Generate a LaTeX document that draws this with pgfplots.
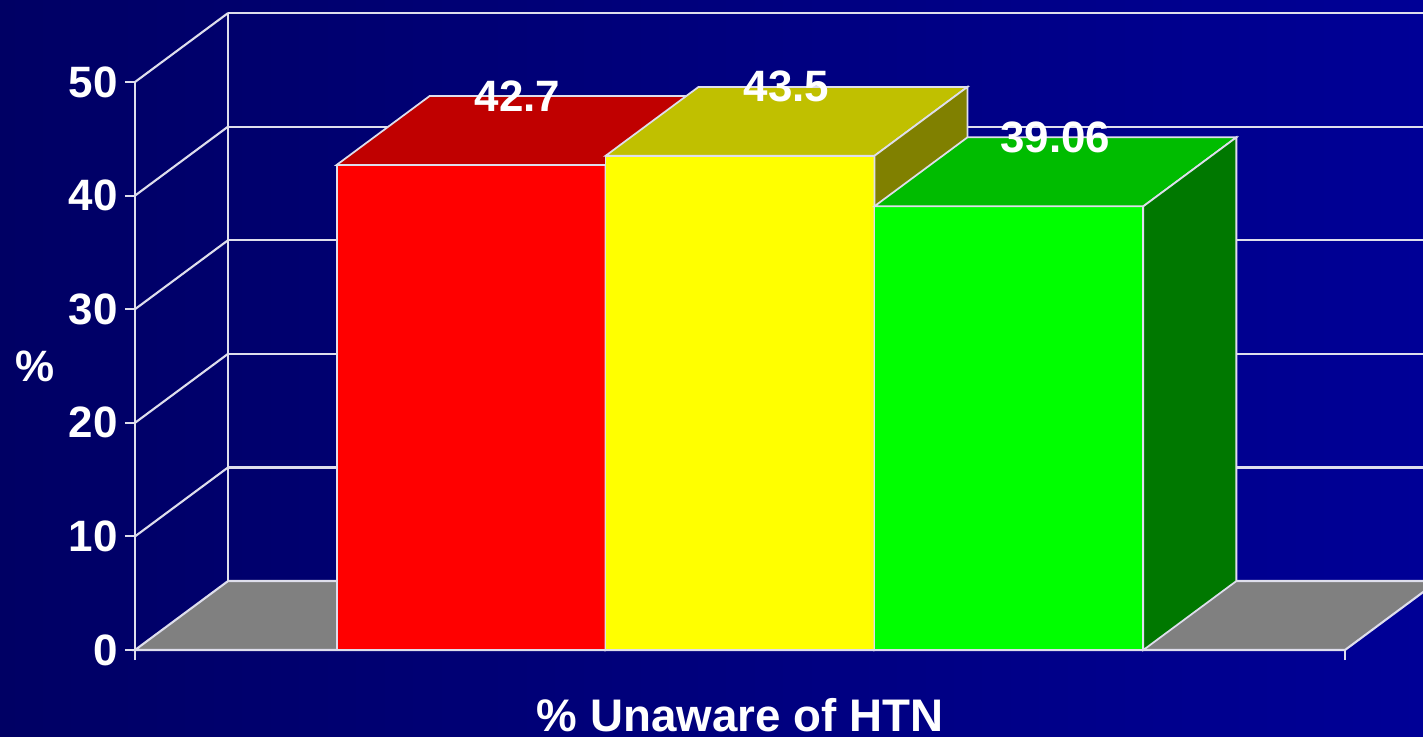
\documentclass[border=0pt]{standalone}
\usepackage{fontspec}
\setmainfont{Liberation Sans}
\usepackage{pgfplots}
\pgfplotsset{compat=1.18}
\definecolor{bgl}{RGB}{0,0,100}
\definecolor{bgr}{RGB}{0,0,150}
\definecolor{edge}{RGB}{222,222,236}
\definecolor{floorgray}{RGB}{128,128,128}
\definecolor{redF}{RGB}{255,0,0}
\definecolor{redT}{RGB}{192,0,0}
\definecolor{redS}{RGB}{128,0,0}
\definecolor{yelF}{RGB}{255,255,0}
\definecolor{yelT}{RGB}{192,192,0}
\definecolor{yelS}{RGB}{128,128,0}
\definecolor{grnF}{RGB}{0,255,0}
\definecolor{grnT}{RGB}{0,188,0}
\definecolor{grnS}{RGB}{0,120,0}
\begin{document}
\begin{tikzpicture}
\useasboundingbox (0,0) rectangle (14.23,7.36);
\clip (0,0) rectangle (14.23,7.36);
\fill[left color=bgl, right color=bgr] (0,0) rectangle (14.23,7.36);
\begin{axis}[
  at={(1.35cm,0.86cm)}, anchor=south west,
  scale only axis, width=12.10cm, height=5.68cm,
  xmin=-0.25, xmax=4.25, ymin=0, ymax=50,
  clip=false,
  axis x line*=bottom, axis y line*=left,
  axis line style={draw=edge, line width=0.6pt},
  ytick={0,10,20,30,40,50},
  xtick={-0.25,4.25}, xticklabels={},
  tick align=outside, major tick length=0.1cm,
  tick style={draw=edge, line width=0.6pt},
  /pgf/number format/assume math mode=true,
  yticklabel style={font=\bfseries\fontsize{12.5}{14}\selectfont, text=white, xshift=0.05cm},
  xlabel={\% Unaware of HTN}, ylabel={\%},
  every axis x label/.style={at={(axis description cs:0.5,0)}, anchor=base, yshift=-0.815cm, inner sep=0pt, font=\bfseries\fontsize{13}{15}\selectfont, text=white},
  every axis y label/.style={at={(axis description cs:0,0.5)}, anchor=center, xshift=-1.0cm, font=\bfseries\fontsize{12.5}{14}\selectfont, text=white},
]
% floor
\addplot[fill=floorgray, draw=edge, line width=0.6pt] coordinates {(-0.25,0) (4.25,0) (4.596,6.07) (0.096,6.07)} -- cycle;
% back wall gridlines
\addplot[draw=edge, line width=0.6pt] coordinates {(0.096,6.07) (0.096,56.07)};
\addplot[draw=edge, line width=0.6pt] coordinates {(0.096,16.07) (4.7,16.07)};
\addplot[draw=edge, line width=0.6pt] coordinates {(0.096,26.07) (4.7,26.07)};
\addplot[draw=edge, line width=0.6pt] coordinates {(0.096,36.07) (4.7,36.07)};
\addplot[draw=edge, line width=0.6pt] coordinates {(0.096,46.07) (4.7,46.07)};
\addplot[draw=edge, line width=0.6pt] coordinates {(0.096,56.07) (4.7,56.07)};
% side wall diagonals
\addplot[draw=edge, line width=0.6pt] coordinates {(-0.25,10) (0.096,16.07)};
\addplot[draw=edge, line width=0.6pt] coordinates {(-0.25,20) (0.096,26.07)};
\addplot[draw=edge, line width=0.6pt] coordinates {(-0.25,30) (0.096,36.07)};
\addplot[draw=edge, line width=0.6pt] coordinates {(-0.25,40) (0.096,46.07)};
\addplot[draw=edge, line width=0.6pt] coordinates {(-0.25,50) (0.096,56.07)};
% red bar 42.7
\addplot[fill=redF, draw=edge, line width=0.5pt] coordinates {(0.5,0) (1.5,0) (1.5,42.7) (0.5,42.7)} -- cycle;
\addplot[fill=redT, draw=edge, line width=0.5pt] coordinates {(0.5,42.7) (1.5,42.7) (1.846,48.77) (0.846,48.77)} -- cycle;
\addplot[fill=redS, draw=edge, line width=0.5pt] coordinates {(1.5,0) (1.5,42.7) (1.846,48.77) (1.846,6.07)} -- cycle;
% yellow bar 43.5
\addplot[fill=yelF, draw=edge, line width=0.5pt] coordinates {(1.5,0) (2.5,0) (2.5,43.5) (1.5,43.5)} -- cycle;
\addplot[fill=yelT, draw=edge, line width=0.5pt] coordinates {(1.5,43.5) (2.5,43.5) (2.846,49.57) (1.846,49.57)} -- cycle;
\addplot[fill=yelS, draw=edge, line width=0.5pt] coordinates {(2.5,0) (2.5,43.5) (2.846,49.57) (2.846,6.07)} -- cycle;
% green bar 39.06
\addplot[fill=grnF, draw=edge, line width=0.5pt] coordinates {(2.5,0) (3.5,0) (3.5,39.06) (2.5,39.06)} -- cycle;
\addplot[fill=grnT, draw=edge, line width=0.5pt] coordinates {(2.5,39.06) (3.5,39.06) (3.846,45.13) (2.846,45.13)} -- cycle;
\addplot[fill=grnS, draw=edge, line width=0.5pt] coordinates {(3.5,0) (3.5,39.06) (3.846,45.13) (3.846,6.07)} -- cycle;
% value labels
\addplot[only marks, mark=none, nodes near coords, point meta=explicit symbolic,
  every node near coord/.style={anchor=center, text=white, font=\bfseries\fontsize{12.5}{14}\selectfont}]
  coordinates {(1.173,48.77)[42.7] (2.173,49.57)[43.5] (3.173,45.13)[39.06]};
\end{axis}
\end{tikzpicture}
\end{document}
